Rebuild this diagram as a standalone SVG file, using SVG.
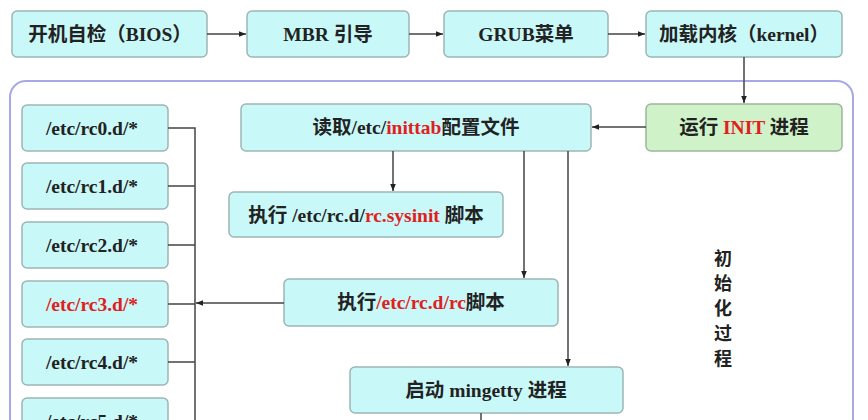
<svg xmlns="http://www.w3.org/2000/svg" width="868" height="420" viewBox="0 0 868 420">
<defs>
<style>
.box{fill:#c9f8f8;stroke:#9fb5b5;stroke-width:1.5}
.green{fill:#cff2c8;stroke:#9fb59f;stroke-width:1.5}
.t{font-family:"Liberation Serif","Noto Sans CJK SC",serif;font-weight:bold;font-size:19.5px;fill:#222;text-anchor:middle;dominant-baseline:central}
.r{fill:#e02020}
.ln{fill:none;stroke:#444;stroke-width:1.5}
.v{font-family:"Noto Sans CJK SC",sans-serif;font-weight:bold;font-size:18px;fill:#222;text-anchor:middle;dominant-baseline:central}
</style>
<marker id="ah" viewBox="0 0 10 10" refX="10" refY="5" markerWidth="7" markerHeight="7" orient="auto" markerUnits="userSpaceOnUse">
<path d="M0,1 L10,5 L0,9 z" fill="#222"/>
</marker>
</defs>
<rect width="868" height="420" fill="#ffffff"/>
<rect id="container" x="10" y="81" width="843" height="360" rx="16" fill="none" stroke="#a8a8e8" stroke-width="2"/>
<g id="bios"><rect class="box" x="12" y="11" width="195" height="46" rx="5"/><text class="t" x="110" y="34">开机自检（BIOS）</text></g>
<g id="mbr"><rect class="box" x="247" y="11" width="162" height="46" rx="5"/><text class="t" x="328" y="34">MBR 引导</text></g>
<g id="grub"><rect class="box" x="444" y="11" width="164" height="46" rx="5"/><text class="t" x="526" y="34">GRUB菜单</text></g>
<g id="kernel"><rect class="box" x="646" y="11" width="196" height="46" rx="5"/><text class="t" x="744" y="34">加载内核（kernel）</text></g>
<g id="init"><rect class="green" x="646" y="104" width="196" height="47" rx="5"/><text class="t" x="744" y="127">运行 <tspan class="r">INIT</tspan> 进程</text></g>
<g id="inittab"><rect class="box" x="241" y="104" width="350" height="47" rx="5"/><text class="t" x="416" y="127">读取/etc/<tspan class="r">inittab</tspan>配置文件</text></g>
<g id="sysinit"><rect class="box" x="229" y="192" width="274" height="45" rx="5"/><text class="t" x="366" y="215">执行 /etc/rc.d/<tspan class="r">rc.sysinit</tspan> 脚本</text></g>
<g id="rc"><rect class="box" x="284" y="279" width="274" height="47" rx="5"/><text class="t" x="421" y="302">执行<tspan class="r">/etc/rc.d/rc</tspan>脚本</text></g>
<g id="mingetty"><rect class="box" x="350" y="367" width="273" height="46" rx="5"/><text class="t" x="486" y="390">启动 mingetty 进程</text></g>
<g id="rc0"><rect class="box" x="22" y="105" width="146" height="46" rx="5"/><text class="t" x="92" y="128">/etc/rc0.d/*</text></g>
<g id="rc1"><rect class="box" x="22" y="163" width="146" height="46" rx="5"/><text class="t" x="92" y="186">/etc/rc1.d/*</text></g>
<g id="rc2"><rect class="box" x="22" y="222" width="146" height="46" rx="5"/><text class="t" x="92" y="245">/etc/rc2.d/*</text></g>
<g id="rc3"><rect class="box" x="22" y="281" width="146" height="46" rx="5"/><text class="t r" x="92" y="304">/etc/rc3.d/*</text></g>
<g id="rc4"><rect class="box" x="22" y="339" width="146" height="46" rx="5"/><text class="t" x="92" y="362">/etc/rc4.d/*</text></g>
<g id="rc5"><rect class="box" x="22" y="398" width="146" height="46" rx="5"/><text class="t" x="92" y="421">/etc/rc5.d/*</text></g>
<g id="label"><text class="v" x="723" y="257">初</text><text class="v" x="723" y="282">始</text><text class="v" x="723" y="307">化</text><text class="v" x="723" y="332">过</text><text class="v" x="723" y="357">程</text></g>
<g id="connectors">
<line class="ln" x1="207" y1="34" x2="246" y2="34" marker-end="url(#ah)"/>
<line class="ln" x1="409" y1="34" x2="443" y2="34" marker-end="url(#ah)"/>
<line class="ln" x1="608" y1="34" x2="645" y2="34" marker-end="url(#ah)"/>
<line class="ln" x1="744" y1="57" x2="744" y2="103" marker-end="url(#ah)"/>
<line class="ln" x1="646" y1="127" x2="592" y2="127" marker-end="url(#ah)"/>
<line class="ln" x1="393" y1="151" x2="393" y2="191" marker-end="url(#ah)"/>
<line class="ln" x1="524" y1="151" x2="524" y2="278" marker-end="url(#ah)"/>
<line class="ln" x1="568" y1="151" x2="568" y2="366" marker-end="url(#ah)"/>
<line class="ln" x1="284" y1="303" x2="196" y2="303" marker-end="url(#ah)"/>
<line class="ln" x1="481" y1="413" x2="481" y2="420"/>
<path class="ln" d="M168,128 H195 V420 M168,186 H195 M168,245 H195 M168,304 H195 M168,362 H195 M168,421 H195"/>
</g>
</svg>
